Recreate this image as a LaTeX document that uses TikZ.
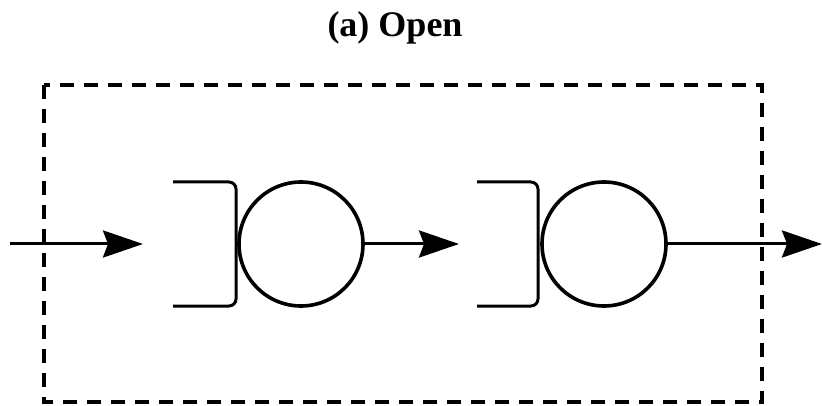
\documentclass[tikz,border=0pt]{standalone}
\usepackage{fontspec}
\setmainfont{Liberation Serif}
\usetikzlibrary{arrows.meta}
\begin{document}
\begin{tikzpicture}[x=1pt,y=-1pt,
  flow/.style={line width=3pt,-{Stealth[length=40pt,width=27pt,inset=5pt]}},
  server/.style={circle,draw,line width=3.6pt,minimum size=124pt,inner sep=0pt},
  buffer/.style={line width=3pt,rounded corners=7pt},
  boundary/.style={line width=3.6pt,dash pattern=on 14pt off 10pt}]
\useasboundingbox (0,0) rectangle (822,406);

% title
\node[font=\fontsize{36}{40}\selectfont\bfseries,anchor=base] (title) at (395,37) {(a) Open};

% system boundary
\draw[boundary] (44,85) rectangle (762,402);

% first station
\node[server] (q1) at (301,244) {};
\draw[buffer] (173,182) -- (236,182) -- (236,306) -- (173,306);

% second station
\node[server] (q2) at (604,244) {};
\draw[buffer] (477,182) -- (538,182) -- (538,306) -- (477,306);

% arrival and departure points
\coordinate (src) at (10,244);
\coordinate (in1) at (143,244);
\coordinate (in2) at (459,244);
\coordinate (out) at (822,244);

\draw[flow] (src) -- (in1);
\draw[flow] (q1.east) -- (in2);
\draw[flow] (q2.east) -- (out);
\end{tikzpicture}
\end{document}
